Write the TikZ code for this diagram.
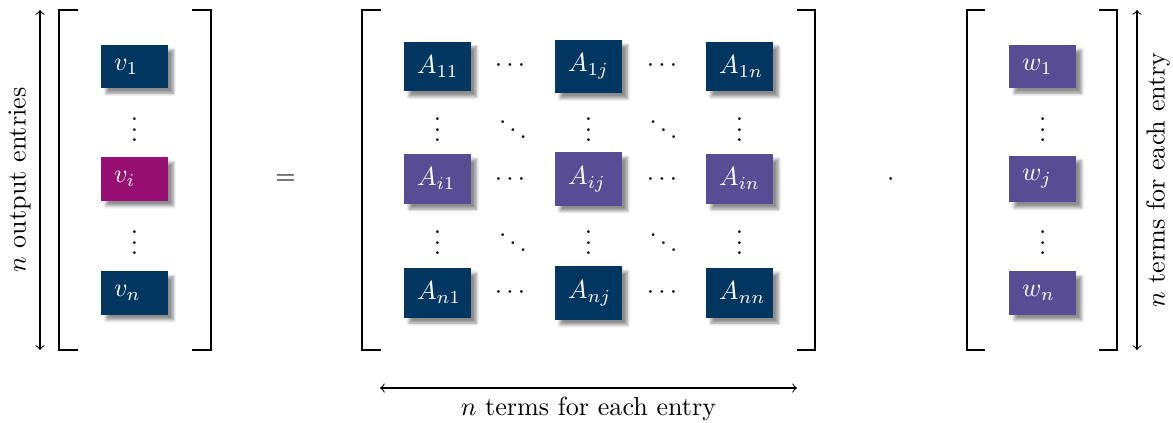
\documentclass[tikz,border=0pt]{standalone}
\usetikzlibrary{shadows.blur}
\definecolor{navy}{HTML}{003660}
\definecolor{plum}{HTML}{584D94}
\definecolor{berry}{HTML}{980F72}
% vertical and diagonal dots without the blank space TeX puts above them
\newcommand\vdotsbare{\vbox{\baselineskip4pt\lineskiplimit0pt\hbox{.}\hbox{.}\hbox{.}}}
\newcommand\ddotsbare{\mkern1mu\raise7pt\hbox{.}\mkern2mu\raise4pt\hbox{.}\mkern2mu\raise1pt\hbox{.}\mkern1mu}
\begin{document}
\begin{tikzpicture}[x=0.3831pt, y=-0.3831pt,
  cell/.style={fill=#1, text=white, inner xsep=5pt, inner ysep=5.35pt,
    text width=15.7pt, align=left,
    blur shadow={shadow xshift=2pt, shadow yshift=-2pt,
      shadow blur radius=1.2pt, shadow opacity=45}},
  brk/.style={line width=0.4pt},
  span/.style={<->, line width=0.4pt},
  dotsnode/.style={anchor=base, inner sep=0pt}]
\useasboundingbox (0,0) rectangle (1173,422);

% row and column positions
\def\ra{66.5}\def\rb{179}\def\rc{293}
\def\da{141.5}\def\db{254.5}
\def\cv{134.5}\def\cw{1042.7}
\def\ca{437.5}\def\cb{588.5}\def\cc{739.5}

% brackets
\draw[brk] (78,10) -- (59,10) -- (59,350) -- (78,350);
\draw[brk] (192,10) -- (211,10) -- (211,350) -- (192,350);
\draw[brk] (381,10) -- (362,10) -- (362,350) -- (381,350);
\draw[brk] (797,10) -- (815,10) -- (815,350) -- (797,350);
\draw[brk] (985,10) -- (967,10) -- (967,350) -- (985,350);
\draw[brk] (1099,10) -- (1117,10) -- (1117,350) -- (1099,350);

% output vector v
\node[cell=navy]  (v1) at (\cv,\ra) {$v_1$};
\node[cell=berry] (vi) at (\cv,\rb) {$v_i$};
\node[cell=navy]  (vn) at (\cv,\rc) {$v_n$};
\node[dotsnode] (vd1) at (\cv,\da) {$\vdotsbare$};
\node[dotsnode] (vd2) at (\cv,\db) {$\vdotsbare$};

% matrix A
\node[cell=navy] (a11) at (\ca,\ra) {$A_{11}$};
\node[cell=navy] (a1j) at (\cb,\ra) {$A_{1j}$};
\node[cell=navy] (a1n) at (\cc,\ra) {$A_{1n}$};
\node[cell=plum] (ai1) at (\ca,\rb) {$A_{i1}$};
\node[cell=plum] (aij) at (\cb,\rb) {$A_{ij}$};
\node[cell=plum] (ain) at (\cc,\rb) {$A_{in}$};
\node[cell=navy] (an1) at (\ca,\rc) {$A_{n1}$};
\node[cell=navy] (anj) at (\cb,\rc) {$A_{nj}$};
\node[cell=navy] (ann) at (\cc,\rc) {$A_{nn}$};

\foreach \r/\b in {a/71.5, i/185.8, n/298.2}{
  \node[dotsnode] (h\r1) at (510,\b) {$\cdots$};
  \node[dotsnode] (h\r2) at (662,\b) {$\cdots$};
}
\foreach \y [count=\k] in {\da,\db}{
  \node[dotsnode] (d\k a) at (\ca,\y) {$\vdotsbare$};
  \node[dotsnode] (d\k b) at (513,\y) {$\ddotsbare$};
  \node[dotsnode] (d\k c) at (\cb,\y) {$\vdotsbare$};
  \node[dotsnode] (d\k d) at (663.5,\y) {$\ddotsbare$};
  \node[dotsnode] (d\k e) at (\cc,\y) {$\vdotsbare$};
}

% input vector w
\node[cell=plum] (w1) at (\cw,\ra) {$w_1$};
\node[cell=plum] (wj) at (\cw,\rb) {$w_j$};
\node[cell=plum] (wn) at (\cw,\rc) {$w_n$};
\node[dotsnode] (wd1) at (\cw,\da) {$\vdotsbare$};
\node[dotsnode] (wd2) at (\cw,\db) {$\vdotsbare$};

% operators
\node[dotsnode] (eq) at (285.5,184.5) {$=$};
\node[dotsnode] (dot) at (890.7,185.8) {$\cdot$};

% dimension arrows
\coordinate (lb) at (40,350);  \coordinate (lt) at (40,10);
\coordinate (rb) at (1137,350); \coordinate (rt) at (1137,10);
\coordinate (ml) at (380,388);  \coordinate (mr) at (797,388);
\draw[span] (lb) -- (lt) node[midway, above, sloped] {$n$ output entries};
\draw[span] (rb) -- (rt) node[midway, below, sloped] {$n$ terms for each entry};
\draw[span] (ml) -- (mr) node[midway, below] {$n$ terms for each entry};
\end{tikzpicture}
\end{document}
